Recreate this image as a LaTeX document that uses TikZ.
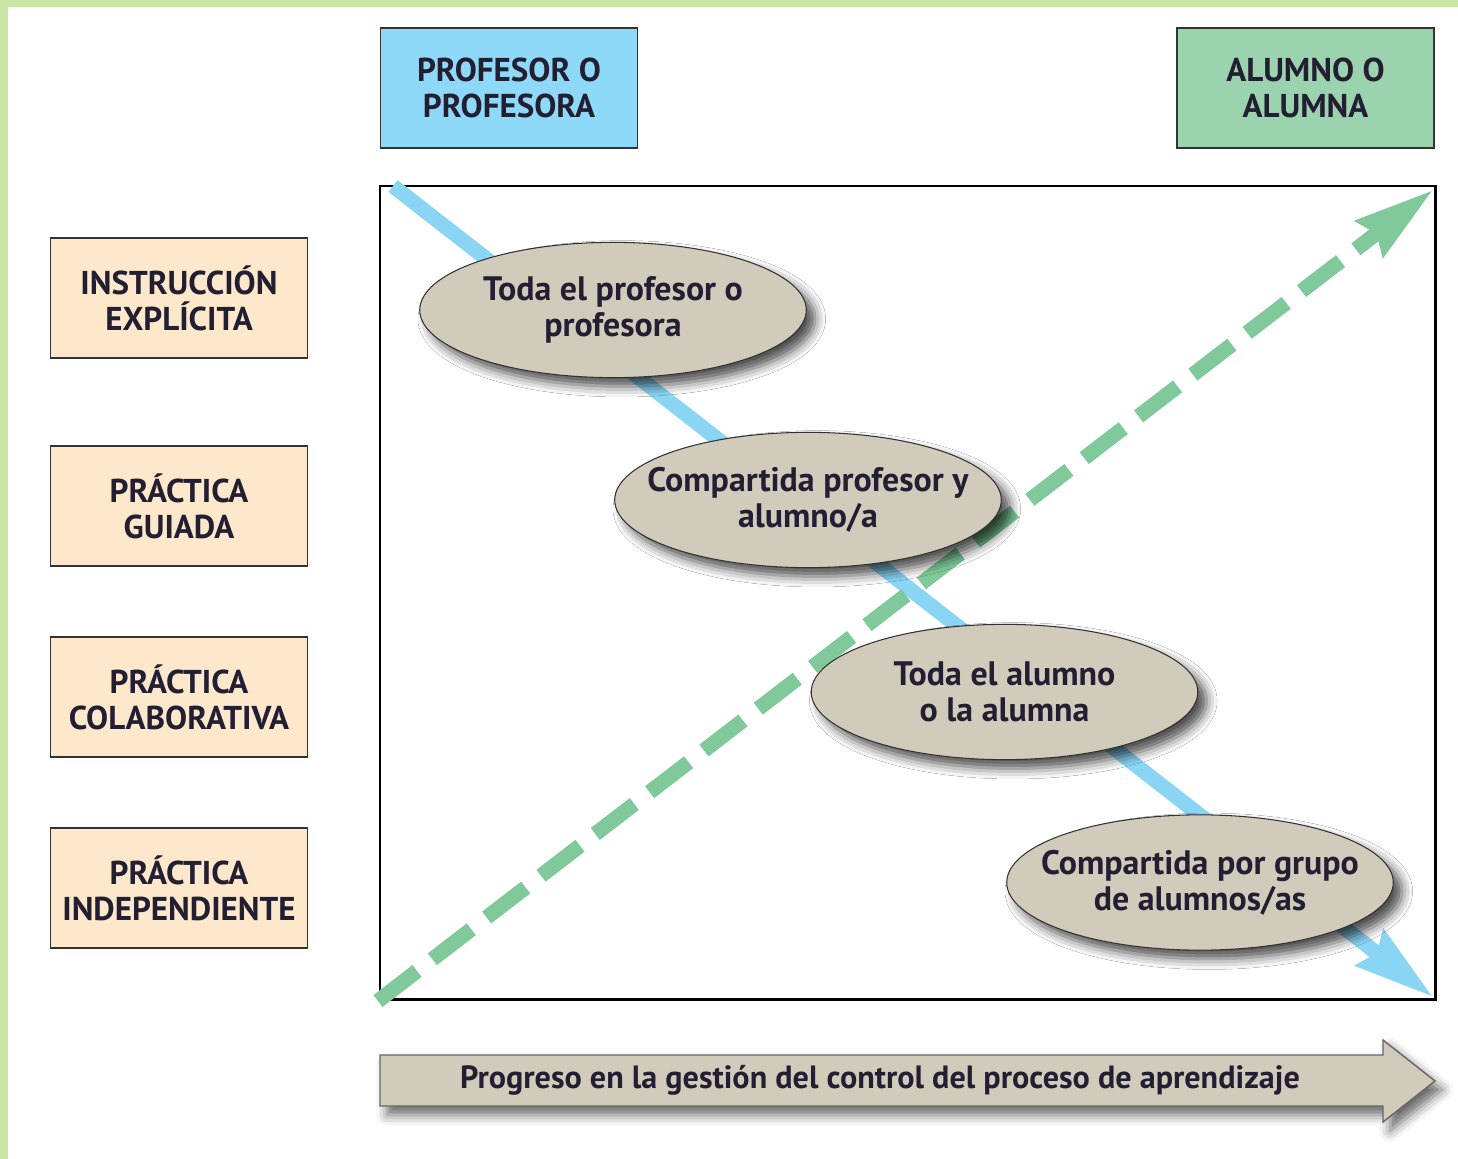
\documentclass[tikz,border=0pt]{standalone}
\usepackage{fontspec}
\setmainfont{PT Sans}
\usetikzlibrary{arrows.meta,shadows.blur,shapes.geometric,positioning}

\definecolor{bandgreen}{HTML}{C9E7A5}
\definecolor{profblue}{HTML}{8ED8F8}
\definecolor{alumgreen}{HTML}{9BD3AE}
\definecolor{stagepeach}{HTML}{FDE8CC}
\definecolor{bubblefill}{HTML}{D1CBBB}
\definecolor{lineblue}{HTML}{8AD4F4}
\definecolor{linegreen}{HTML}{7FC99A}
\definecolor{ink}{HTML}{231F32}
\definecolor{boxline}{HTML}{333333}

\tikzset{
  labeltext/.style={text=ink, font=\bfseries\fontsize{18.8}{20.4}\selectfont, align=center},
  rolebox/.style={labeltext, draw=boxline, line width=1.1pt,
    minimum width=146.3pt, minimum height=68pt, inner sep=0pt},
  stagebox/.style={rolebox, fill=stagepeach},
  bubble/.style={ellipse, draw=boxline, line width=0.6pt, fill=bubblefill,
    minimum width=220pt, minimum height=77pt, inner xsep=-70pt, inner ysep=0pt,
    labeltext, font=\bfseries\fontsize{19.3}{20.4}\selectfont,
    blur shadow={shadow xshift=5pt, shadow yshift=-5pt, shadow blur radius=6pt, shadow opacity=70}},
  progarrow/.style={fill=bubblefill, draw=gray!80!black, line width=0.8pt,
    blur shadow={shadow xshift=4pt, shadow yshift=-5pt, shadow blur radius=6pt, shadow opacity=60}},
}

\begin{document}
\begin{tikzpicture}[x=0.02cm, y=-0.02cm]
    \useasboundingbox (0,0) rectangle (1458,1159);

    % green edge of the page
    \fill[bandgreen] (0,0) rectangle (1458,7);
    \fill[bandgreen] (0,0) rectangle (8,1159);

    % top boxes
    \node[rolebox, fill=profblue] (profesor) at (509,88) {PROFESOR O\\PROFESORA};
    \node[rolebox, fill=alumgreen] (alumno) at (1305.5,88) {ALUMNO O\\ALUMNA};

    % stages on the left
    \node[stagebox] (explicita) at (179,298) {INSTRUCCIÓN\\EXPLÍCITA};
    \node[stagebox] (guiada) at (179,506) {PRÁCTICA\\GUIADA};
    \node[stagebox] (colaborativa) at (179,697) {PRÁCTICA\\COLABORATIVA};
    \node[stagebox] (independiente) at (179,888) {PRÁCTICA\\INDEPENDIENTE};

    % main frame
    \draw[line width=1.7pt, fill=white] (380,186) rectangle (1435,999);

    % teacher line and student line
    \coordinate (profStart) at (393,186);
    \coordinate (profEnd) at (1433,997);
    \coordinate (alumStart) at (378,1001);
    \coordinate (alumEnd) at (1433,190);
    \draw[lineblue, line width=8.5pt, -{Stealth[length=45pt, width=25pt, inset=4.5pt]}]
      (profStart) -- (profEnd);
    \draw[linegreen, line width=8.5pt, dash pattern=on 28pt off 11pt,
      -{Stealth[length=45pt, width=25pt, inset=4.5pt]}] (alumStart) -- (alumEnd);

    % who does the work
    \node[bubble] (todaprof) at (613,310) {Toda el profesor o\\profesora};
    \node[bubble] (compartida) at (808,500) {Compartida profesor y\\alumno/a};
    \node[bubble] (todaalum) at (1004.5,692) {Toda el alumno\\o la alumna};
    \node[bubble] (grupo) at (1200,882.5) {Compartida por grupo\\de alumnos/as};

    % progress arrow
    \path[progarrow] (380,1055) -- (1383,1055) -- (1383,1040) -- (1435,1081)
      -- (1383,1122) -- (1383,1106) -- (380,1106) -- cycle;
    \node[labeltext, font=\bfseries\fontsize{18.3}{20}\selectfont] (progreso) at (880,1080)
      {Progreso en la gestión del control del proceso de aprendizaje};

\end{tikzpicture}
\end{document}
